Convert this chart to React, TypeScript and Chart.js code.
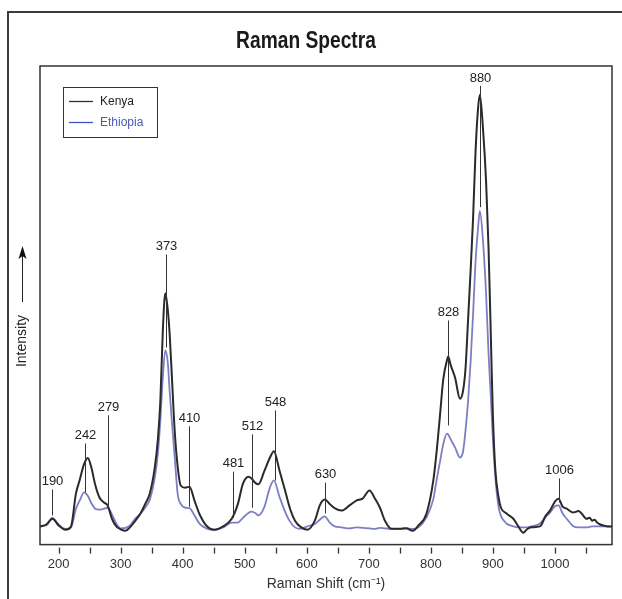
import React, { useEffect, useRef } from 'react';
import { Chart, registerables } from 'chart.js';

Chart.register(...registerables);

// Raman shift (cm-1) sampling, shared by both spectra
const shifts = [
  170, 180, 190, 200, 211, 220, 228, 234, 241, 247, 253, 259, 266, 273, 279, 286, 293, 300, 308, 315,
  322, 332, 340, 347, 355, 360, 364, 368, 372, 376, 379, 383, 387, 392, 397, 404, 411, 419, 427, 438,
  451, 465, 479, 489, 497, 506, 511, 517, 522, 532, 540, 547, 556, 565, 573, 581, 590, 601, 613, 621,
  629, 637, 645, 656, 669, 680, 690, 701, 710, 718, 726, 737, 750, 760, 771, 780, 793, 804, 810, 815,
  820, 826, 828, 832, 839, 847, 852, 856, 860, 864, 868, 872, 876, 879, 884, 889, 893, 897, 900, 904,
  909, 913, 922, 933, 941, 949, 955, 962, 976, 985, 992, 1000, 1006, 1012, 1019, 1029, 1038, 1043, 1051, 1056,
  1060, 1064, 1068, 1073, 1078, 1085, 1092,
];

// Relative intensity, Kenya sample
const kenya = [
  3.8, 4.2, 5.4, 4.0, 3.1, 3.8, 10.7, 13.5, 16.8, 18.1, 16.0, 12.5, 9.8, 8.8, 8.2, 5.4, 3.8, 3.2, 2.9, 3.6,
  4.7, 6.5, 8.6, 10.7, 16.1, 22, 30, 44.8, 52.5, 49, 44, 34, 24, 16.2, 12.3, 11.9, 12.1, 9.2, 6.4, 4.0,
  3.1, 3.8, 5.4, 8.5, 12.7, 14.2, 13.8, 12.9, 12.6, 15.5, 18.0, 19.5, 15.5, 11.3, 7.5, 5.0, 3.7, 3.1, 5.0, 8.2,
  9.4, 8.5, 7.6, 7.1, 8.2, 9.2, 9.6, 11.3, 9.6, 7.7, 5.0, 3.3, 3.3, 3.4, 2.9, 4.0, 6.5, 13.4, 20.3, 27.4,
  34.5, 38.5, 39.3, 37.5, 34.9, 30.5, 32.2, 37, 47, 57, 68, 82, 91, 94, 87, 76, 62, 42, 27, 15.5,
  10, 7.7, 6.5, 5.4, 3.8, 2.5, 3.2, 3.6, 3.8, 6.0, 7.1, 9.0, 9.6, 8.0, 7.5, 6.7, 7.0, 6.5, 5.4, 5.6,
  5.0, 5.2, 4.6, 4.2, 4.0, 3.8, 3.8,
];

// Relative intensity, Ethiopia sample
const ethiopia = [
  3.8, 4.0, 5.6, 4.2, 3.3, 3.6, 7.5, 9.2, 10.9, 10.2, 8.6, 7.5, 7.3, 7.5, 7.7, 6.3, 4.4, 3.4, 3.5, 4.0,
  5.2, 6.5, 7.8, 9.4, 14.0, 19, 26, 35, 40.6, 38, 32, 25, 18.5, 10.5, 8.5, 7.7, 7.6, 6.1, 4.4, 3.4,
  3.1, 3.6, 4.6, 4.6, 5.6, 6.6, 6.9, 6.6, 6.1, 8.0, 11.7, 13.4, 10.0, 6.9, 4.8, 3.6, 3.3, 3.8, 4.3, 5.2,
  5.9, 4.6, 3.8, 3.6, 3.4, 3.6, 3.5, 3.4, 3.3, 3.5, 3.4, 3.3, 3.3, 3.4, 3.3, 3.6, 5.7, 9.5, 14.0, 17.5,
  21.0, 23.2, 23.0, 22.0, 20.3, 18.2, 19.5, 24, 30, 38, 48, 59, 66, 69.7, 63.6, 52.4, 40, 30, 22, 14,
  8, 6.0, 4.4, 3.8, 3.6, 3.6, 3.6, 3.8, 4.4, 5.8, 6.7, 8.0, 8.2, 6.6, 5.4, 3.9, 3.6, 3.6, 3.6, 3.7,
  3.8, 3.8, 3.8, 3.8, 3.8, 3.8, 3.8,
];

const chartTitle = 'Raman Spectra';
const seriesNames = ['Kenya', 'Ethiopia'];
const tickValues = [200, 300, 400, 500, 600, 700, 800, 900, 1000];
const minorTickValues = [250, 350, 450, 550, 650, 750, 850, 950, 1050];

// Peak annotations: position (cm-1), label height and leader-line end (intensity units)
const peakPositions = [190, 242, 279, 373, 410, 481, 512, 548, 630, 828, 880, 1006];
const peakTextLevel = [13.2, 22.8, 28.7, 62.3, 26.4, 16.9, 24.7, 29.7, 14.6, 48.5, 97.5, 15.5];
const peakLineEnd = [6.1, 10.9, 8.2, 41.2, 7.9, 5.6, 7.7, 13.4, 6.5, 24.9, 70.5, 8.8];

const KENYA_COLOR = '#2a2a2a';
const ETHIOPIA_COLOR = '#7c7ec4';
const LEGEND_BLUE = '#3f52c0';
const FONT = "'Liberation Sans', Arial, sans-serif";

const decorations = {
  id: 'decorations',
  afterDraw(chart: any) {
    const { ctx, chartArea, scales } = chart;
    const x = scales.x;
    const y = scales.y;
    ctx.save();

    // outer frame (left and top edges)
    ctx.strokeStyle = '#3a3a3a';
    ctx.lineWidth = 2;
    ctx.beginPath();
    ctx.moveTo(8, chart.height + 2);
    ctx.lineTo(8, 12);
    ctx.lineTo(chart.width + 2, 12);
    ctx.stroke();

    // title (condensed bold)
    ctx.save();
    ctx.translate(306, 48);
    ctx.scale(0.8, 1);
    ctx.font = `bold 24px ${FONT}`;
    ctx.fillStyle = '#1a1a1a';
    ctx.textAlign = 'center';
    ctx.textBaseline = 'alphabetic';
    ctx.fillText(chartTitle, 0, 0);
    ctx.restore();

    // plot frame
    ctx.strokeStyle = '#333';
    ctx.lineWidth = 1.5;
    ctx.strokeRect(chartArea.left, chartArea.top, chartArea.right - chartArea.left, chartArea.bottom - chartArea.top);

    // tick marks
    ctx.lineWidth = 1.3;
    ctx.strokeStyle = '#333';
    [...tickValues, ...minorTickValues].forEach((v) => {
      const px = Math.round(x.getPixelForValue(v)) + 0.5;
      ctx.beginPath();
      ctx.moveTo(px, chartArea.bottom + 3);
      ctx.lineTo(px, chartArea.bottom + 9);
      ctx.stroke();
    });

    // peak annotations
    ctx.font = `13px ${FONT}`;
    ctx.fillStyle = '#222';
    ctx.textAlign = 'center';
    ctx.textBaseline = 'middle';
    ctx.lineWidth = 1;
    ctx.strokeStyle = '#333';
    peakPositions.forEach((p, i) => {
      const px = Math.round(x.getPixelForValue(p)) + 0.5;
      const ty = y.getPixelForValue(peakTextLevel[i]);
      const ly = y.getPixelForValue(peakLineEnd[i]);
      ctx.fillText(String(p), px, ty);
      ctx.beginPath();
      ctx.moveTo(px, ty + 8);
      ctx.lineTo(px, ly);
      ctx.stroke();
    });

    // legend
    const lx = chartArea.left + 23;
    const ly0 = chartArea.top + 21;
    ctx.fillStyle = '#fff';
    ctx.fillRect(lx, ly0, 94, 50);
    ctx.strokeStyle = '#333';
    ctx.lineWidth = 1;
    ctx.strokeRect(lx + 0.5, ly0 + 0.5, 94, 50);
    const items = [
      { name: seriesNames[0], line: '#333', text: '#222', dy: 14 },
      { name: seriesNames[1], line: LEGEND_BLUE, text: '#4a5ab8', dy: 35 },
    ];
    ctx.font = `12px ${FONT}`;
    ctx.textAlign = 'left';
    ctx.textBaseline = 'middle';
    items.forEach((it) => {
      ctx.strokeStyle = it.line;
      ctx.lineWidth = 1.3;
      ctx.beginPath();
      ctx.moveTo(lx + 6, ly0 + it.dy + 0.5);
      ctx.lineTo(lx + 30, ly0 + it.dy + 0.5);
      ctx.stroke();
      ctx.fillStyle = it.text;
      ctx.fillText(it.name, lx + 37, ly0 + it.dy + 1);
    });

    // y-axis label with arrow
    const ax = 22;
    ctx.save();
    ctx.translate(ax, 341);
    ctx.rotate(-Math.PI / 2);
    ctx.font = `14px ${FONT}`;
    ctx.fillStyle = '#222';
    ctx.textAlign = 'center';
    ctx.textBaseline = 'middle';
    ctx.fillText('Intensity', 0, 0);
    ctx.restore();
    ctx.strokeStyle = '#222';
    ctx.lineWidth = 1;
    ctx.beginPath();
    ctx.moveTo(ax + 0.5, 302);
    ctx.lineTo(ax + 0.5, 256);
    ctx.stroke();
    ctx.fillStyle = '#111';
    ctx.beginPath();
    ctx.moveTo(ax + 0.5, 246);
    ctx.lineTo(ax - 3.5, 259);
    ctx.lineTo(ax + 0.5, 256);
    ctx.lineTo(ax + 4.5, 259);
    ctx.closePath();
    ctx.fill();

    ctx.restore();
  },
};

export default function App() {
  const canvasRef = useRef<HTMLCanvasElement | null>(null);

  useEffect(() => {
    if (!canvasRef.current) return;
    const chart = new Chart(canvasRef.current, {
      type: 'line',
      data: {
        datasets: [
          {
            label: seriesNames[0],
            data: shifts.map((s, i) => ({ x: s, y: kenya[i] })),
            borderColor: KENYA_COLOR,
            borderWidth: 2,
            pointRadius: 0,
            cubicInterpolationMode: 'monotone',
            fill: false,
          },
          {
            label: seriesNames[1],
            data: shifts.map((s, i) => ({ x: s, y: ethiopia[i] })),
            borderColor: ETHIOPIA_COLOR,
            borderWidth: 1.8,
            pointRadius: 0,
            cubicInterpolationMode: 'monotone',
            fill: false,
          },
        ],
      },
      options: {
        animation: false,
        responsive: false,
        layout: { padding: { left: 40, right: 10, top: 66, bottom: 2 } },
        plugins: {
          legend: { display: false },
          tooltip: { enabled: false },
          title: { display: false },
        },
        scales: {
          x: {
            type: 'linear',
            min: 170,
            max: 1092,
            afterBuildTicks: (axis: any) => {
              axis.ticks = tickValues.map((v) => ({ value: v }));
            },
            grid: { display: true, drawOnChartArea: false, color: 'transparent', tickLength: 8 },
            border: { display: false },
            ticks: {
              color: '#333',
              font: { family: FONT, size: 13 },
              padding: 4,
              maxRotation: 0,
              autoSkip: false,
              callback: (v: any) => String(v),
            },
            title: {
              display: true,
              text: 'Raman Shift (cm⁻¹)',
              color: '#333',
              font: { family: FONT, size: 14 },
              padding: { top: 0, bottom: 4 },
            },
          },
          y: { display: false, min: 0, max: 100 },
        },
      },
      plugins: [decorations],
    });
    return () => chart.destroy();
  }, []);

  return (
    <div style={{ position: 'absolute', left: 0, top: 0, width: 622, height: 599 }}>
      <canvas ref={canvasRef} width={622} height={599} style={{ display: 'block' }} />
    </div>
  );
}
